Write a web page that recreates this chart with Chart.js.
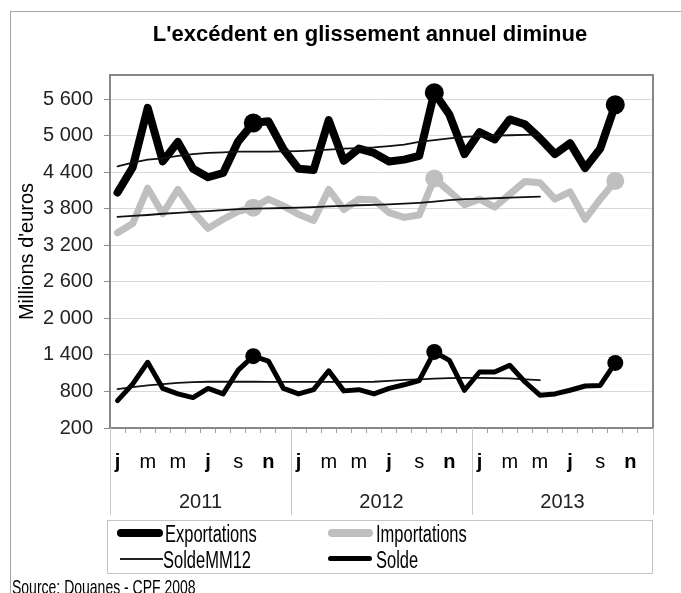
<!DOCTYPE html>
<html lang="fr">
<head>
<meta charset="utf-8">
<title>L'excédent en glissement annuel diminue</title>
<script src="https://cdn.jsdelivr.net/npm/chart.js@4.4.1/dist/chart.umd.min.js"></script>
<style>
  html, body { margin: 0; padding: 0; background: #fff; }
  .wrap { position: relative; width: 681px; height: 593px; overflow: hidden; font-family: "Liberation Sans", Arial, sans-serif; color: #000; }
  .frame { position: absolute; left: 10px; top: 11px; width: 700px; height: 600px; border-left: 1px solid #a6a6a6; border-top: 1px solid #a6a6a6; }
  canvas { position: absolute; left: 0; top: 0; }
  .title { position: absolute; left: 70px; width: 600px; top: 21px; text-align: center; font-weight: bold; font-size: 22px; line-height: 26px; white-space: nowrap; }
  .legend-box { position: absolute; left: 107px; top: 520px; width: 546px; height: 54px; border: 1px solid #c4c4c4; box-sizing: border-box; }
  .swatch { position: absolute; }
  .lbl { position: absolute; font-size: 16.5px; line-height: 20px; white-space: nowrap; transform: scaleY(1.5); transform-origin: left center; }
  .source { position: absolute; left: 12px; top: 574px; font-size: 14px; line-height: 16px; white-space: nowrap; transform: scaleY(1.5); transform-origin: left top; }
</style>
</head>
<body>
<div class="wrap">
  <div class="frame"></div>
  <canvas id="chart" width="681" height="593"></canvas>
  <div class="title">L'excédent en glissement annuel diminue</div>

  <div class="legend-box"></div>
  <span class="swatch" style="left:117px;top:529px;width:46px;height:8px;border-radius:4px;background:#000"></span>
  <span class="lbl" style="left:165px;top:523px">Exportations</span>
  <span class="swatch" style="left:328px;top:529px;width:45px;height:8px;border-radius:4px;background:#bfbfbf"></span>
  <span class="lbl" style="left:376px;top:523px">Importations</span>
  <span class="swatch" style="left:120px;top:558px;width:43px;height:2px;background:#222"></span>
  <span class="lbl" style="left:163px;top:549px">SoldeMM12</span>
  <span class="swatch" style="left:328px;top:556px;width:44px;height:5px;border-radius:3px;background:#000"></span>
  <span class="lbl" style="left:376px;top:549px">Solde</span>

  <div class="source">Source: Douanes - CPF 2008</div>
</div>

<script>
// --- data (millions d'euros, monthly, janv. 2011 -> déc. 2013) ---
const years = ['2011', '2012', '2013'];
const monthLetters = ['j', 'f', 'm', 'a', 'm', 'j', 'j', 'a', 's', 'o', 'n', 'd'];
const categories = years.flatMap(y => monthLetters.map((m, i) => y + '-' + String(i + 1).padStart(2, '0')));

const exportations = [
  4070, 4480, 5460, 4580, 4900, 4460, 4320, 4390, 4910, 5210, 5240, 4780,
  4460, 4440, 5260, 4590, 4790, 4720, 4580, 4610, 4670, 5710, 5350, 4700,
  5060, 4940, 5270, 5190, 4960, 4700, 4880, 4470, 4790, 5510, null, null
];
const importations = [
  3410, 3560, 4140, 3720, 4120, 3760, 3480, 3630, 3760, 3820, 3960, 3850,
  3710, 3610, 4120, 3790, 3960, 3950, 3740, 3660, 3700, 4300, 4090, 3870,
  3960, 3830, 4040, 4250, 4230, 3960, 4080, 3630, 3960, 4260, null, null
];
const solde = [
  650, 920, 1280, 850, 760, 700, 850, 760, 1150, 1380, 1300, 850,
  760, 830, 1140, 810, 830, 760, 850, 910, 980, 1450, 1310, 820,
  1120, 1120, 1230, 960, 740, 760, 820, 890, 900, 1270, null, null
];
const exportationsMM12 = [
  4500, 4560, 4610, 4630, 4670, 4700, 4720, 4730, 4740, 4740, 4740, 4745,
  4750, 4760, 4775, 4790, 4800, 4810, 4830, 4855, 4900, 4930, 4960, 4985,
  4995, 5005, 5010, 5015, 5020, null, null, null, null, null, null, null
];
const importationsMM12 = [
  3670, 3685, 3700, 3720, 3735, 3750, 3765, 3780, 3795, 3805, 3810, 3815,
  3820, 3830, 3840, 3850, 3860, 3865, 3875, 3885, 3900, 3920, 3945, 3960,
  3965, 3975, 3985, 3995, 4000, null, null, null, null, null, null, null
];
const soldeMM12 = [
  840, 870, 900, 920, 940, 955, 960, 960, 960, 960, 958, 957,
  957, 957, 957, 957, 957, 960, 975, 990, 1000, 1010, 1020, 1025,
  1025, 1020, 1015, 1000, 985, null, null, null, null, null, null, null
];
const yTicks = [200, 800, 1400, 2000, 2600, 3200, 3800, 4400, 5000, 5600];

// octobre de chaque année porte un marqueur
const markedMonth = 9;
const boldMonths = [0, 6, 10];

const FONT = '"Liberation Sans", Arial, sans-serif';
const NARROW = '"Liberation Sans Narrow", "Liberation Sans", Arial, sans-serif';

function markers(r) {
  return categories.map((c, i) => (i % 12 === markedMonth ? r : 0));
}
function fmt(v) {
  return String(v).replace(/\B(?=(\d{3})+(?!\d))/g, ' ');
}

// cadre de la zone de tracé
const plotFrame = {
  id: 'plotFrame',
  beforeDatasetsDraw(chart) {
    const {ctx, chartArea: a} = chart;
    ctx.save();
    ctx.strokeStyle = '#868686';
    ctx.lineWidth = 2;
    ctx.strokeRect(a.left, a.top, a.right - a.left, a.bottom - a.top);
    ctx.restore();
  }
};

// séparateurs entre années sous l'axe
const yearDividers = {
  id: 'yearDividers',
  afterDraw(chart) {
    const {ctx, chartArea: a} = chart;
    const x = chart.scales.x;
    const yr = chart.scales.year;
    const half = (x.getPixelForValue(1) - x.getPixelForValue(0)) / 2;
    ctx.save();
    ctx.strokeStyle = '#c8c8c8';
    ctx.lineWidth = 1;
    ctx.beginPath();
    for (let i = 0; i <= categories.length; i += 12) {
      const px = i < categories.length ? x.getPixelForValue(i) - half : x.getPixelForValue(i - 1) + half;
      ctx.moveTo(Math.round(px) + 0.5, a.bottom);
      ctx.lineTo(Math.round(px) + 0.5, yr.bottom);
    }
    ctx.stroke();
    ctx.restore();
  }
};

function line(label, data, color, width, radius, order) {
  return {
    label, data, order,
    borderColor: color,
    backgroundColor: color,
    borderWidth: width,
    pointRadius: radius ? markers(radius) : 0,
    pointBorderWidth: 0,
    pointHoverRadius: 0,
    borderJoinStyle: 'round',
    borderCapStyle: 'round',
    tension: 0,
    spanGaps: false,
    xAxisID: 'x'
  };
}

new Chart(document.getElementById('chart'), {
  type: 'line',
  data: {
    labels: categories,
    datasets: [
      line('Exportations', exportations, '#000', 8, 9.5, 6),
      line('Importations', importations, '#bfbfbf', 7, 9, 5),
      line('ExportationsMM12', exportationsMM12, '#111', 1.8, 0, 4),
      line('ImportationsMM12', importationsMM12, '#111', 1.8, 0, 3),
      line('SoldeMM12', soldeMM12, '#111', 1.8, 0, 2),
      line('Solde', solde, '#000', 5, 8, 1)
    ]
  },
  options: {
    responsive: false,
    animation: false,
    layout: { padding: { top: 75, right: 28, bottom: 78, left: 0 } },
    plugins: {
      legend: { display: false },
      title: { display: false },
      tooltip: { enabled: false }
    },
    scales: {
      x: {
        type: 'category',
        position: 'bottom',
        offset: true,
        weight: 0,
        afterFit: s => { s.height = 48; },
        grid: { display: true, drawOnChartArea: false, offset: true, tickLength: 5, tickColor: '#a0a0a0', color: '#a0a0a0' },
        border: { display: false },
        ticks: {
          autoSkip: false,
          maxRotation: 0,
          padding: 17,
          color: '#000',
          font: ctx => ({ family: NARROW, size: 20, weight: boldMonths.includes(ctx.index % 12) ? 'bold' : 'normal' }),
          callback: (v, i) => (i % 2 === 0 ? monthLetters[i % 12] : '')
        }
      },
      year: {
        type: 'category',
        position: 'bottom',
        labels: years,
        offset: true,
        weight: 1,
        afterFit: s => { s.height = 39; },
        grid: { display: false },
        border: { display: false },
        ticks: { padding: 6, color: '#222', font: { family: NARROW, size: 20 } }
      },
      y: {
        min: 200,
        max: 6000,
        afterBuildTicks: s => { s.ticks = yTicks.map(v => ({ value: v })); },
        afterFit: s => { s.width = 110; },
        grid: { color: '#d9d9d9', tickColor: '#8c8c8c', tickLength: 6, lineWidth: 1 },
        border: { display: false },
        ticks: { padding: 11, color: '#222', font: { family: FONT, size: 20 }, callback: v => fmt(v) },
        title: { display: true, text: "Millions d'euros", color: '#000', font: { family: FONT, size: 20 }, padding: { top: 15, bottom: 0 } }
      }
    }
  },
  plugins: [plotFrame, yearDividers]
});
</script>
</body>
</html>
